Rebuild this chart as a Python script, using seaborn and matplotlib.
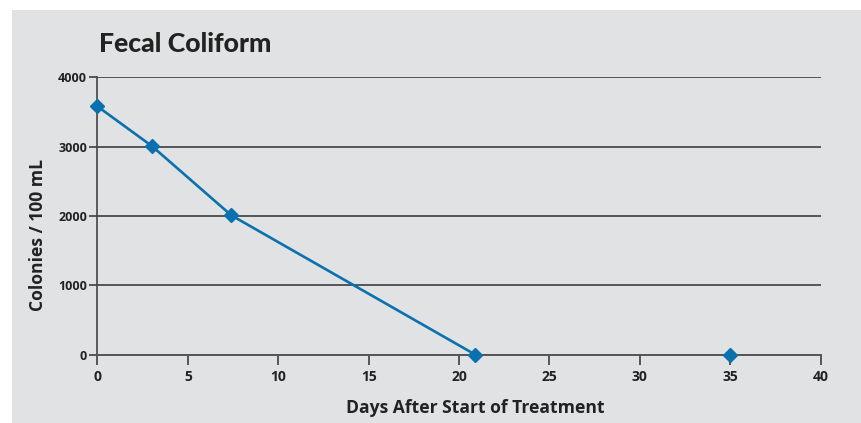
import matplotlib
matplotlib.use("Agg")
import matplotlib.pyplot as plt
import seaborn as sns
import pandas as pd
from matplotlib.patches import Rectangle

# Data
days = [0, 3, 7.4, 20.9, 35]
colonies = [3580, 3010, 2010, 0, 0]
connected = [True, True, True, True, False]
x_ticks = [0, 5, 10, 15, 20, 25, 30, 35, 40]
y_ticks = [0, 1000, 2000, 3000, 4000]
title = "Fecal Coliform"
x_label = "Days After Start of Treatment"
y_label = "Colonies / 100 mL"

df = pd.DataFrame({"days": days, "colonies": colonies, "connected": connected})
line_df = df[df["connected"]]

sns.set_theme(style="white")
plt.rcParams["font.family"] = ["Open Sans", "DejaVu Sans"]

BG = "#e1e2e4"
BLUE = "#0a71ae"
DARK = "#2e2e2e"
TICKC = "#555555"
TXT = "#222222"

fig = plt.figure(figsize=(8.62, 4.23), dpi=100)
fig.patch.set_facecolor("white")
fig.patches.append(Rectangle((12 / 862, 0), 1 - 12 / 862, 1 - 10 / 423,
                             transform=fig.transFigure, facecolor=BG,
                             edgecolor="none", zorder=-10))

ax = fig.add_axes([97.5 / 862, 1 - 354.7 / 423, (820.7 - 97.5) / 862, (354.7 - 77.3) / 423])
ax.set_facecolor("none")
ax.set_zorder(5)

sns.lineplot(data=line_df, x="days", y="colonies", ax=ax, color=BLUE,
             linewidth=1.9, zorder=3, clip_on=False)
ax.plot(df["days"], df["colonies"], linestyle="none", marker="D", markersize=7.5,
        color=BLUE, markeredgecolor=BLUE, zorder=4, clip_on=False)

ax.set_xlim(0, 40)
ax.set_ylim(0, 4000)
ax.set_xticks(x_ticks)
ax.set_yticks(y_ticks)
ax.set_xticklabels([str(t) for t in x_ticks])
ax.set_yticklabels([str(t) for t in y_ticks])

for s in ["top", "right"]:
    ax.spines[s].set_visible(False)
ax.spines["left"].set_color("#444444")
ax.spines["left"].set_linewidth(1.2)
ax.spines["bottom"].set_color(TICKC)
ax.spines["bottom"].set_linewidth(1.4)

ax.yaxis.grid(True, color=DARK, linewidth=1.1)
ax.xaxis.grid(False)
ax.set_axisbelow(True)

ax.tick_params(axis="x", direction="out", length=7.5, width=1.4, color=TICKC,
               pad=3.5, labelsize=10, labelcolor=TXT, bottom=True)
ax.tick_params(axis="y", direction="out", length=6, width=1.1, color=DARK,
               pad=1.5, labelsize=9, labelcolor=TXT, left=True)
for lab in ax.get_xticklabels() + ax.get_yticklabels():
    lab.set_fontweight("bold")

ax.set_xlabel(x_label, fontsize=12.6, fontweight="bold", color=TXT)
ax.set_ylabel(y_label, fontsize=12.6, fontweight="bold", color=TXT)
ax.xaxis.set_label_coords(0.522, -0.16)
ax.yaxis.set_label_coords(-0.07, 0.4315)

fig.text(99 / 862, 1 - 52 / 423, title, fontsize=19.2, fontweight="black",
         color=TXT, va="baseline", ha="left", family=["Lato", "DejaVu Sans"])

fig.savefig("out.png", dpi=100, facecolor=fig.get_facecolor())
